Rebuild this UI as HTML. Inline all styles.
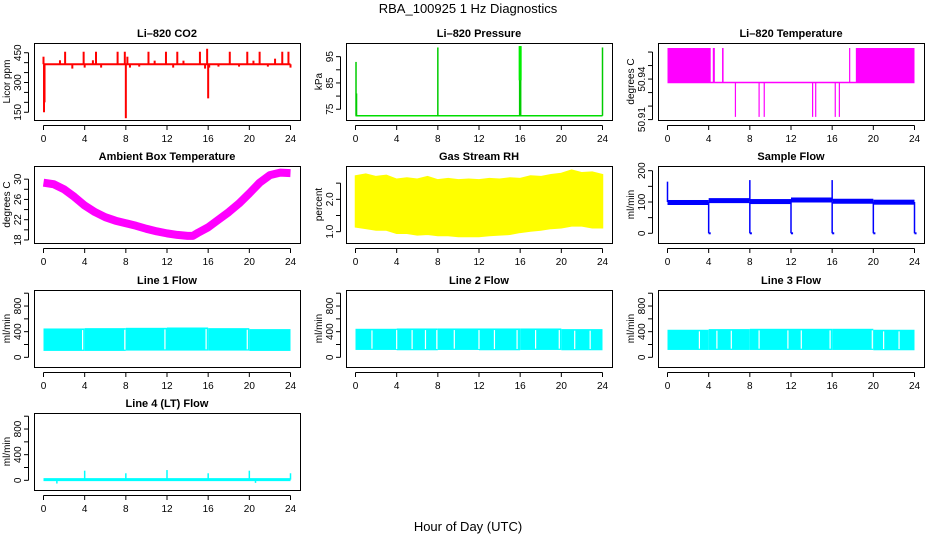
<!DOCTYPE html>
<html><head><meta charset="utf-8">
<style>
html,body{margin:0;padding:0;background:#fff;}
svg{display:block;font-family:"Liberation Sans",sans-serif;}
</style></head>
<body>
<svg id="c" width="936" height="540" viewBox="0 0 936 540" xmlns="http://www.w3.org/2000/svg">
<text x="468" y="13" text-anchor="middle" font-size="13">RBA_100925  1 Hz Diagnostics</text>
<text x="468" y="531" text-anchor="middle" font-size="13">Hour of Day (UTC)</text>
</svg>
<script>
// ---- data ----
const xTicks=[0,4,8,12,16,20,24];
const co2Base=392;
const co2Hours=[0.0,0.05,0.1,1.6,2.1,2.8,3.9,4.0,4.8,5.1,5.6,7.2,7.9,8.0,8.15,8.4,9.3,10.2,10.8,11.9,12.6,13.0,13.6,15.2,15.7,15.9,16.0,16.1,17.0,18.1,19.0,19.8,20.4,21.0,21.8,22.5,23.2,23.8,24.0];
const co2Values=[430,150,200,412,455,370,455,375,412,455,375,455,455,120,430,375,380,455,410,455,375,455,410,455,370,470,220,375,380,455,380,455,410,455,380,420,455,455,375];
const presBase=72.5;
const presHours=[0.05,0.1,8.0,15.95,16.05,24.0];
const presValues=[93,81,98.5,99,99,98.5];
const tempBase=50.9375, tempHigh=50.963, tempLow=50.912;
const tempBlockStart=[0,4.4,5.3,18.3];
const tempBlockEnd=[4.2,4.6,5.45,24];
const tempHighLines=[17.7];
const tempLowHours=[6.6,8.9,9.4,14.1,14.4,16.3,16.7];
const ambHours=[0,1,2,3,4,5,6,7,8,9,10,11,12,13,14,14.5,15,16,17,18,19,20,21,22,23,24];
const ambValues=[29.3,29.0,28.0,26.5,24.8,23.5,22.5,21.8,21.3,20.8,20.2,19.7,19.3,19.0,18.8,18.8,19.4,20.5,22.0,23.5,25.2,27.2,29.3,30.8,31.3,31.2];
const rhHours=[0,1,2,3,4,5,6,7,8,9,10,11,12,13,14,15,16,17,18,19,20,21,22,23,24];
const rhUpper=[2.72,2.78,2.7,2.74,2.62,2.66,2.62,2.7,2.6,2.64,2.6,2.62,2.6,2.64,2.62,2.66,2.64,2.72,2.7,2.76,2.8,2.9,2.82,2.84,2.76];
const rhLower=[1.15,1.1,1.05,1.05,0.95,0.95,0.9,0.92,0.88,0.88,0.85,0.85,0.85,0.88,0.9,0.92,0.98,1.02,1.05,1.1,1.12,1.18,1.18,1.12,1.12];
const sfHours=[0,4,8,12,16,20,24];
const sfLevels=[100,106,103,108,104,101,101];
const sfSpikeUpHours=[0,8,16];
const sfSpikeUpValues=[165,170,170];
const sfSpikeDownHours=[4,8,12,16,20,24];
const sfSpikeDownValues=[0,0,0,0,0,0];
const l1Low=[100,100,105,105,105,100], l1High=[450,455,460,465,455,440];
const l1Gaps=[3.8,7.9,11.8,15.8,19.8];
const l2Low=[115,110,115,110,115,110], l2High=[445,450,450,450,450,440];
const l2Gaps=[1.6,4.0,5.5,6.8,7.9,9.6,12.0,13.5,15.7,17.5,19.8,21.3,22.8];
const l3Low=[115,115,115,115,115,110], l3High=[430,440,445,445,445,430];
const l3Gaps=[3.1,4.8,6.2,8.9,11.7,13.0,15.8,19.9,21.0,22.5];
const l4Base=10;
const l4Hours=[1.3,4.0,8.0,12.0,16.0,20.0,20.6,24.0];
const l4Values=[-50,150,110,160,110,150,-40,110];

// ---- layout ----
const NS="http://www.w3.org/2000/svg";
const svg=document.getElementById('c');
const colLeft=[34,346,658], rowTop=[43,166,290,413], W=266, H=77;
function mk(tag,attrs,parent){const e=document.createElementNS(NS,tag);for(const k in attrs)e.setAttribute(k,attrs[k]);(parent||svg).appendChild(e);return e;}

function panel(col,row,title,ylab,ylim,yTicks,yLabels,name){
  const L=colLeft[col],T=rowTop[row],B=T+H;
  const g=mk('g',{});
  
  
  const x=h=>L+9.5+h*(247/24);
  const y=v=>B-(v-ylim[0])/(ylim[1]-ylim[0])*H;
  const t=mk('text',{x:L+W/2,y:T-6,'text-anchor':'middle','font-size':11,'font-weight':'bold'},g);
  t.textContent=title;
  
  
  const plot=mk('g',{},g);
  
  
  const frame=mk('rect',{x:L+.5,y:T+.5,width:W,height:H,fill:'none',stroke:'#000'},g);
  
  
  // x axis
  const xa=mk('g',{},g);
  
  
  mk('line',{x1:x(0),x2:x(24),y1:B+5.5,y2:B+5.5,stroke:'#000'},xa);
  xTicks.forEach(v=>{
    mk('line',{x1:x(v),x2:x(v),y1:B+5.5,y2:B+10,stroke:'#000'},xa);
    const tt=mk('text',{x:x(v),y:B+22,'text-anchor':'middle','font-size':10},xa);
    tt.textContent=v;
  });
  // y axis
  const ya=mk('g',{},g);
  
  
  mk('line',{x1:L-5.5,x2:L-5.5,y1:y(yTicks[0]),y2:y(yTicks[yTicks.length-1]),stroke:'#000'},ya);
  yTicks.forEach((v,i)=>{
    mk('line',{x1:L-10,x2:L-5.5,y1:y(v),y2:y(v),stroke:'#000'},ya);
    if(yLabels[i]!==''){
      const tt=mk('text',{x:0,y:0,'text-anchor':'middle','font-size':10,transform:`translate(${L-13},${y(v)}) rotate(-90)`},ya);
      tt.textContent=yLabels[i];
    }
  });
  const yt=mk('text',{x:0,y:0,'text-anchor':'middle','font-size':10,transform:`translate(${L-24},${T+H/2}) rotate(-90)`},g);
  yt.textContent=ylab;
  
  
  return {x,y,g:plot};
}
function vline(p,h,v1,v2,color,w){mk('line',{x1:p.x(h),x2:p.x(h),y1:p.y(v1),y2:p.y(v2),stroke:color,'stroke-width':w||1},p.g);}
function hline(p,h1,h2,v,color,w){mk('line',{x1:p.x(h1),x2:p.x(h2),y1:p.y(v),y2:p.y(v),stroke:color,'stroke-width':w||1},p.g);}

// CO2
let p=panel(0,0,'Li\u2013820 CO2','Licor ppm',[111,499],[150,200,250,300,350,400,450],['150','','','300','','','450'],'co2');
hline(p,0,24,co2Base,'#ff0000',2);
co2Hours.forEach((h,i)=>vline(p,h,co2Base,co2Values[i],'#ff0000',2));

// Pressure
p=panel(1,0,'Li\u2013820 Pressure','kPa',[70.9,100.2],[75,80,85,90,95],['75','','85','','95'],'pressure');
hline(p,0,24,presBase,'#00dd00',1.5);
presHours.forEach((h,i)=>vline(p,h,presBase,presValues[i],'#00cc00',1.5));
vline(p,16,86,99,'#00ee00',3);

// Li-820 temperature
p=panel(2,0,'Li\u2013820 Temperature','degrees C',[50.9097,50.9667],[50.91,50.92,50.93,50.94,50.95,50.96],['50.91','','','50.94','',''],'li820-temp');
hline(p,0,24,tempBase,'#ff00ff',1.5);
tempBlockStart.forEach((s,i)=>{
  mk('rect',{x:p.x(s),y:p.y(tempHigh),width:Math.max(1.5,p.x(tempBlockEnd[i])-p.x(s)),height:p.y(tempBase)-p.y(tempHigh),fill:'#ff00ff'},p.g);
});
tempHighLines.forEach(h=>vline(p,h,tempBase,tempHigh,'#ff00ff',1.2));
tempLowHours.forEach(h=>vline(p,h,tempBase,tempLow,'#ff00ff',1.2));

// Ambient
p=panel(0,1,'Ambient Box Temperature','degrees C',[17.4,32.6],[18,20,22,24,26,28,30],['18','','22','','26','','30'],'ambient-temp');
mk('polyline',{points:ambHours.map((h,i)=>p.x(h)+','+p.y(ambValues[i])).join(' '),fill:'none',stroke:'#ff00ff','stroke-width':8,'stroke-linejoin':'round'},p.g);

// RH
p=panel(1,1,'Gas Stream RH','percent',[0.65,3.03],[1,1.5,2,2.5],['1.0','','2.0',''],'gas-rh');
{
  const pts=rhHours.map((h,i)=>p.x(h)+','+p.y(rhUpper[i])).concat(rhHours.slice().reverse().map((h,j)=>{const i=rhHours.length-1-j;return p.x(h)+','+p.y(rhLower[i]);}));
  mk('polygon',{points:pts.join(' '),fill:'#ffff00',stroke:'#ffff00','stroke-width':1.5},p.g);
}

// Sample flow
p=panel(2,1,'Sample Flow','ml/min',[-31,215],[0,50,100,150,200],['0','','100','','200'],'sample-flow');
for(let i=0;i<sfHours.length-1;i++){
  mk('rect',{x:p.x(sfHours[i]),y:p.y(sfLevels[i])-2,width:p.x(sfHours[i+1])-p.x(sfHours[i]),height:5,fill:'#0000ff'},p.g);
}
sfSpikeUpHours.forEach((h,i)=>vline(p,h,sfLevels[Math.min(i*2,sfLevels.length-1)],sfSpikeUpValues[i],'#0000ff',1.5));
sfSpikeDownHours.forEach((h,i)=>{vline(p,h,100,sfSpikeDownValues[i],'#0000ff',1.5);hline(p,h,h+0.2,sfSpikeDownValues[i],'#0000ff',2);});

// Line flows
function flowPanel(col,row,title,name,low,high,gaps){
  const q=panel(col,row,title,'ml/min',[-151,1050],[0,200,400,600,800,1000],['0','','400','','800',''],name);
  for(let i=0;i<6;i++){
    const h0=i*4,h1=i*4+4;
    mk('rect',{x:q.x(h0),y:q.y(high[i]),width:q.x(h1)-q.x(h0),height:q.y(low[i])-q.y(high[i]),fill:'#00ffff'},q.g);
  }
  gaps.forEach(h=>vline(q,h,low[Math.min(5,Math.floor(h/4))]+20,high[Math.min(5,Math.floor(h/4))]-25,'#ffffff',1.2));
  return q;
}
flowPanel(0,2,'Line 1 Flow','line1-flow',l1Low,l1High,l1Gaps);
flowPanel(1,2,'Line 2 Flow','line2-flow',l2Low,l2High,l2Gaps);
flowPanel(2,2,'Line 3 Flow','line3-flow',l3Low,l3High,l3Gaps);

p=panel(0,3,'Line 4 (LT) Flow','ml/min',[-151,1050],[0,200,400,600,800,1000],['0','','400','','800',''],'line4-flow');
hline(p,0,24,l4Base,'#00ffff',3);
l4Hours.forEach((h,i)=>vline(p,h,l4Base,l4Values[i],'#00ffff',1.5));
</script>
</body></html>
